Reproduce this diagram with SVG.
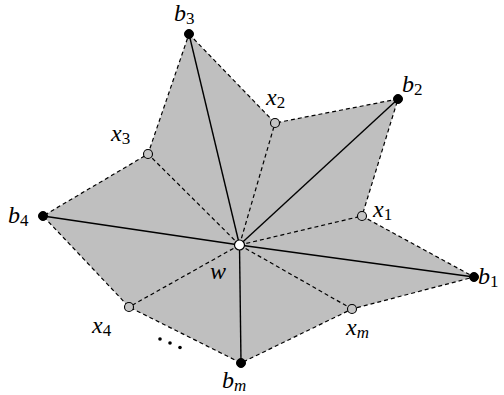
<svg xmlns="http://www.w3.org/2000/svg" width="504" height="395" viewBox="0 0 504 395">
<style>
text{font-family:'Liberation Serif','Times New Roman',serif;font-size:24px;font-style:italic;fill:#000}
.sub{font-size:17px;font-style:normal}
.subi{font-size:17px;font-style:italic}
.dash{fill:none;stroke:#000;stroke-width:1.2;stroke-dasharray:4 3}
.solid{fill:none;stroke:#000;stroke-width:1.4}
.bnode{fill:#000;stroke:#000;stroke-width:1}
.xnode{fill:#c4c4c4;stroke:#000;stroke-width:1.1}
.wnode{fill:#fff;stroke:#000;stroke-width:1.2}
</style>
<rect width="504" height="395" fill="#fff"/>
<g id="region">
<polygon points="189,34 275,123 398,99 362,216 474,277 352,309 241,363 129,307 43,216 148,154" fill="#bfbfbf" stroke="none"/>
</g>
<g id="connectors">
<polygon class="dash" points="189,34 275,123 398,99 362,216 474,277 352,309 241,363 129,307 43,216 148,154"/>
<line class="dash" x1="239.5" y1="245" x2="275" y2="123"/>
<line class="dash" x1="239.5" y1="245" x2="148" y2="154"/>
<line class="dash" x1="239.5" y1="245" x2="362" y2="216"/>
<line class="dash" x1="239.5" y1="245" x2="129" y2="307"/>
<line class="dash" x1="239.5" y1="245" x2="352" y2="309"/>
<line class="solid" x1="239.5" y1="245" x2="189" y2="34"/>
<line class="solid" x1="239.5" y1="245" x2="398" y2="99"/>
<line class="solid" x1="239.5" y1="245" x2="474" y2="277"/>
<line class="solid" x1="239.5" y1="245" x2="43" y2="216"/>
<line class="solid" x1="239.5" y1="245" x2="241" y2="363"/>
</g>
<g id="b3"><circle class="bnode" cx="189" cy="34" r="4.5"/><text x="174" y="21">b<tspan class="sub" dy="3">3</tspan></text></g>
<g id="x2"><circle class="xnode" cx="275" cy="123" r="4.5"/><text x="266" y="105">x<tspan class="sub" dy="3">2</tspan></text></g>
<g id="b2"><circle class="bnode" cx="398" cy="99" r="4.5"/><text x="402" y="92">b<tspan class="sub" dy="3">2</tspan></text></g>
<g id="x3"><circle class="xnode" cx="148" cy="154" r="4.5"/><text x="111" y="141">x<tspan class="sub" dy="3">3</tspan></text></g>
<g id="x1"><circle class="xnode" cx="362" cy="216" r="4.5"/><text x="373" y="217">x<tspan class="sub" dy="3">1</tspan></text></g>
<g id="b4"><circle class="bnode" cx="43" cy="216" r="4.5"/><text x="8" y="223">b<tspan class="sub" dy="3">4</tspan></text></g>
<g id="w"><circle class="wnode" cx="239.5" cy="245" r="5"/><text x="210" y="279">w</text></g>
<g id="b1"><circle class="bnode" cx="474" cy="277" r="4.5"/><text x="478" y="284">b<tspan class="sub" dy="3">1</tspan></text></g>
<g id="x4"><circle class="xnode" cx="129" cy="307" r="4.5"/><text x="92" y="333">x<tspan class="sub" dy="3">4</tspan></text></g>
<g id="xm"><circle class="xnode" cx="352" cy="309" r="4.5"/><text x="346" y="335">x<tspan class="subi" dy="3">m</tspan></text></g>
<g id="bm"><circle class="bnode" cx="241" cy="363" r="4.5"/><text x="222" y="388">b<tspan class="subi" dy="3">m</tspan></text></g>
<g id="dots">
<circle cx="160" cy="339" r="1.8" fill="#000"/>
<circle cx="170" cy="343" r="1.8" fill="#000"/>
<circle cx="180" cy="347.5" r="1.8" fill="#000"/>
</g>
</svg>
